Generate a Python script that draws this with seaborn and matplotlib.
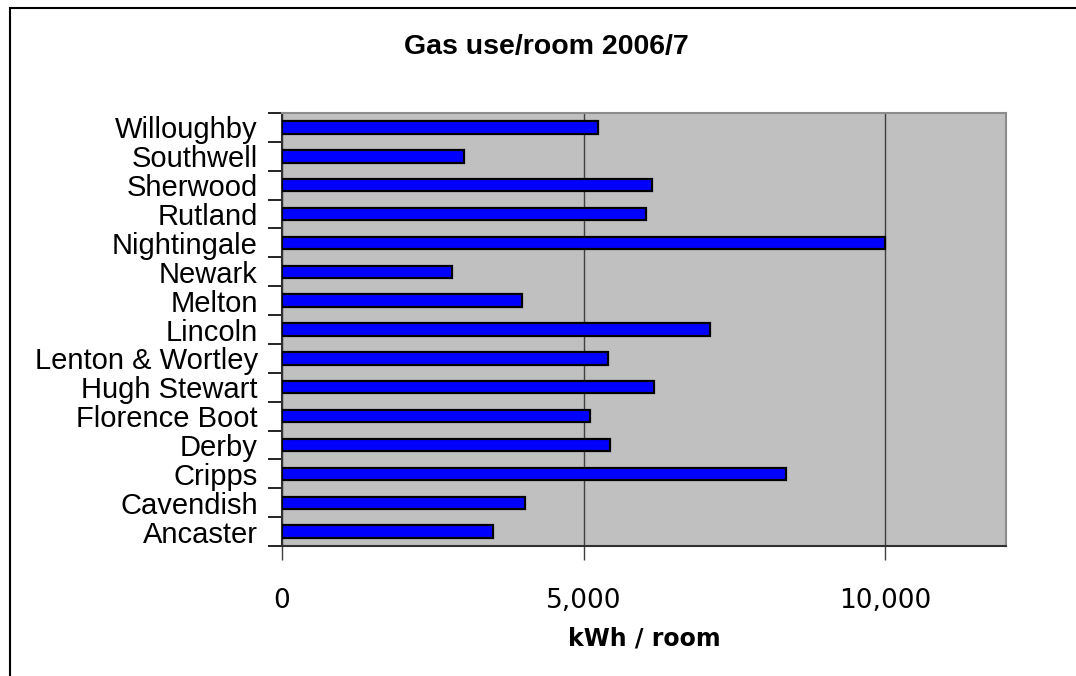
import matplotlib
matplotlib.use('Agg')
import numpy as np
import pandas as pd
import seaborn as sns
from matplotlib import pyplot as plt
from matplotlib.patches import Rectangle
from matplotlib.ticker import FixedLocator, FuncFormatter

halls = ['Willoughby', 'Southwell', 'Sherwood', 'Rutland', 'Nightingale',
         'Newark', 'Melton', 'Lincoln', 'Lenton & Wortley', 'Hugh Stewart',
         'Florence Boot', 'Derby', 'Cripps', 'Cavendish', 'Ancaster']
kwh_per_room = [5240, 3020, 6140, 6040, 10000,
                2820, 3980, 7100, 5410, 6170,
                5110, 5440, 8350, 4020, 3490]
x_ticks = [0, 5000, 10000]

df = pd.DataFrame({'hall': halls, 'kwh': kwh_per_room})

sns.set_style('white')
plt.rcParams['font.family'] = ['Liberation Sans', 'DejaVu Sans']
plt.rcParams['text.color'] = 'black'
plt.rcParams['axes.labelcolor'] = 'black'
plt.rcParams['xtick.labelcolor'] = 'black'
plt.rcParams['ytick.labelcolor'] = 'black'

fig = plt.figure(figsize=(10.76, 6.76), dpi=100)
ax = fig.add_axes([0.2621, 0.1923, 0.6729, 0.6405])
ax.set_facecolor('#C0C0C0')

sns.barplot(data=df, x='kwh', y='hall', orient='h', order=halls,
            color='#0000FF', saturation=1, edgecolor='black',
            linewidth=1.6, width=0.43, ax=ax, zorder=3)

ax.set_xlim(0, 12000)
ax.set_ylim(14.5, -0.5)
ax.xaxis.set_major_locator(FixedLocator(x_ticks))
ax.xaxis.set_major_formatter(FuncFormatter(lambda v, p: f'{int(v):,}'))
ax.grid(axis='x', color='#404040', linewidth=1, zorder=1)
ax.set_axisbelow(True)

# category boundary ticks on the y axis
ax.yaxis.set_minor_locator(FixedLocator(np.arange(-0.5, 15, 1)))
ax.tick_params(axis='y', which='major', length=0, pad=17.5, labelsize=21)
ax.tick_params(axis='y', which='minor', length=10, width=1.2,
               direction='out', color='black', left=True)
ax.tick_params(axis='x', which='major', length=10, width=1,
               direction='out', color='#404040', bottom=True,
               pad=20, labelsize=19)
for lab in ax.get_xticklabels():
    lab.set_family('DejaVu Sans')

for side in ['top', 'right']:
    ax.spines[side].set_color('#8C8C8C')
    ax.spines[side].set_linewidth(1.5)
for side in ['left', 'bottom']:
    ax.spines[side].set_color('#303030')
    ax.spines[side].set_linewidth(1.5)

ax.set_ylabel('')
ax.set_xlabel('kWh / room', fontsize=17, fontweight='bold',
              family='DejaVu Sans', labelpad=9)

fig.text(0.508, 0.930, 'Gas use/room 2006/7', ha='center', va='center',
         fontsize=20.5, fontweight='bold')

# outer chart frame (cut off at right and bottom)
fig.add_artist(Rectangle((10 / 1076, -0.1), 1.2, 0.1 + 1 - 8 / 676,
                         transform=fig.transFigure, fill=False,
                         edgecolor='black', linewidth=1.5))

fig.savefig('out.png', dpi=100)
plt.close(fig)
